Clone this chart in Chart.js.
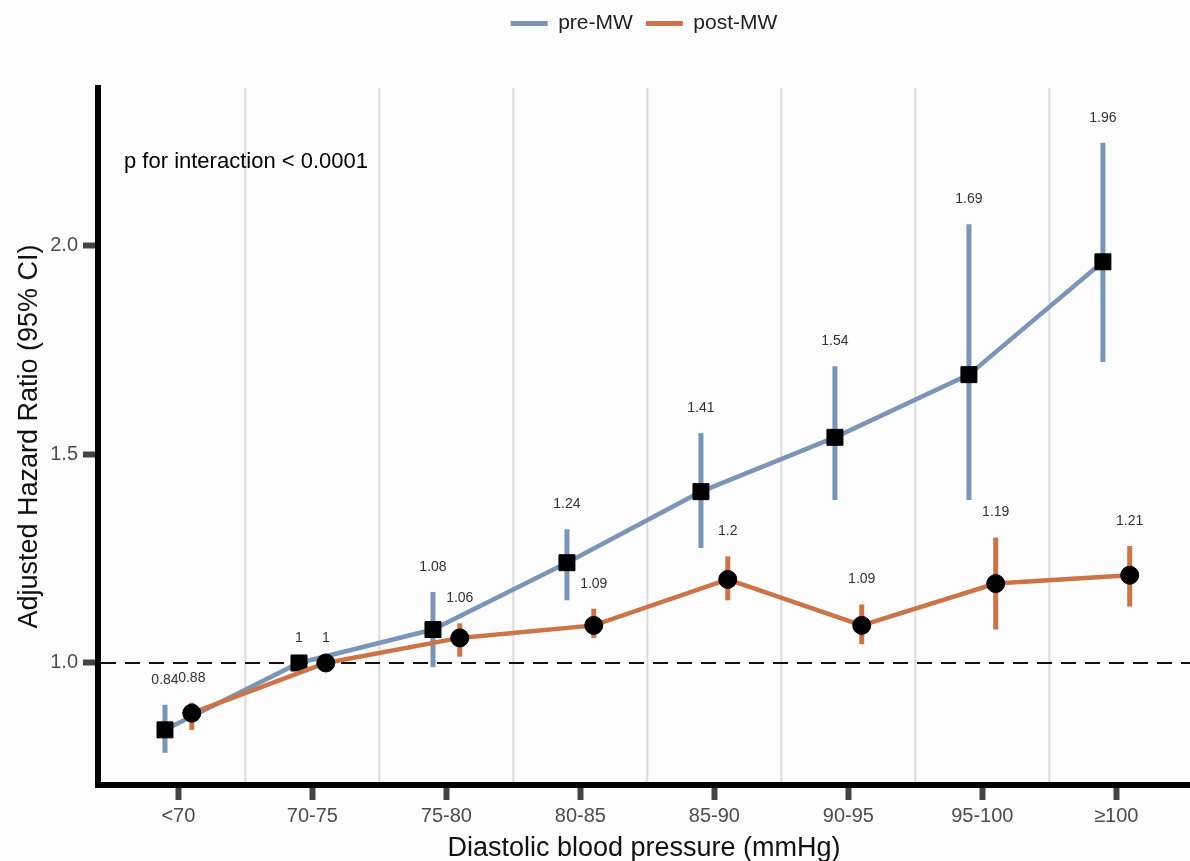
<!DOCTYPE html>
<html>
<head>
<meta charset="utf-8">
<script src="https://cdn.jsdelivr.net/npm/chart.js@4/dist/chart.umd.min.js"></script>
<style>
  html, body { margin: 0; padding: 0; background: #fdfdfe; }
  #wrap { width: 1190px; height: 861px; }
</style>
</head>
<body>
<div id="wrap"><canvas id="hrChart"></canvas></div>
<script>
// 범주 (이완기 혈압 구간)
const categories = ['<70', '70-75', '75-80', '80-85', '85-90', '90-95', '95-100', '≥100'];

// pre-MW: 위험비와 95% 신뢰구간
const preHR   = [0.84, 1, 1.08, 1.24, 1.41, 1.54, 1.69, 1.96];
const preLow  = [0.785, 1, 0.99, 1.15, 1.275, 1.39, 1.39, 1.72];
const preHigh = [0.90, 1, 1.17, 1.32, 1.55, 1.71, 2.05, 2.245];

// post-MW
const postHR   = [0.88, 1, 1.06, 1.09, 1.2, 1.09, 1.19, 1.21];
const postLow  = [0.84, 1, 1.015, 1.06, 1.15, 1.045, 1.08, 1.135];
const postHigh = [0.905, 1, 1.095, 1.13, 1.255, 1.14, 1.30, 1.28];

const yTicks = [1.0, 1.5, 2.0];
const dodge = 0.1;

const blue = '#7b95b8';
const orange = '#cc7348';
const fontFamily = '"Liberation Sans", Arial, sans-serif';

const toPoints = (vals, shift) => vals.map((v, i) => ({ x: i + shift, y: v }));

// 구간 경계선, 기준선(HR=1), 오차막대, 값 라벨
const backgroundMarks = {
    id: 'backgroundMarks',
    beforeDatasetsDraw(chart) {
        const { ctx, chartArea, scales: { x, y } } = chart;
        ctx.save();
        ctx.strokeStyle = '#dcdcdc';
        ctx.lineWidth = 2;
        for (let i = 0; i < categories.length - 1; i++) {
            const px = x.getPixelForValue(i + 0.5);
            ctx.beginPath();
            ctx.moveTo(px, chartArea.top);
            ctx.lineTo(px, chartArea.bottom - 3);
            ctx.stroke();
        }
        // 기준선
        const y1 = y.getPixelForValue(1);
        ctx.strokeStyle = '#111';
        ctx.lineWidth = 2.2;
        ctx.setLineDash([15, 9]);
        ctx.beginPath();
        ctx.moveTo(chartArea.left + 3, y1);
        ctx.lineTo(chartArea.right, y1);
        ctx.stroke();
        ctx.setLineDash([]);
        // 오차막대
        ctx.lineWidth = 5;
        const bars = (low, high, shift, color) => {
            ctx.strokeStyle = color;
            low.forEach((lo, i) => {
                if (high[i] === lo) return;
                const px = x.getPixelForValue(i + shift);
                ctx.beginPath();
                ctx.moveTo(px, y.getPixelForValue(lo));
                ctx.lineTo(px, y.getPixelForValue(high[i]));
                ctx.stroke();
            });
        };
        bars(preLow, preHigh, -dodge, blue);
        bars(postLow, postHigh, dodge, orange);
        ctx.restore();
    },
    afterDatasetsDraw(chart) {
        const { ctx, chartArea, scales: { x, y } } = chart;
        ctx.save();
        ctx.font = '14px ' + fontFamily;
        ctx.fillStyle = '#333';
        ctx.textAlign = 'center';
        ctx.textBaseline = 'middle';
        const labels = (vals, high, shift) => {
            vals.forEach((v, i) => {
                const px = x.getPixelForValue(i + shift);
                const py = y.getPixelForValue(high[i]) - 25;
                ctx.fillText(String(v), px, py);
            });
        };
        labels(preHR, preHigh, -dodge);
        labels(postHR, postHigh, dodge);
        // 상호작용 p값
        ctx.font = '22px ' + fontFamily;
        ctx.fillStyle = '#000';
        ctx.textAlign = 'left';
        ctx.fillText('p for interaction < 0.0001', chartArea.left + 26, 162);
        ctx.restore();
    }
};

document.addEventListener('DOMContentLoaded', () => {
    const ctx = document.getElementById('hrChart').getContext('2d');

    const data = {
        datasets: [
            {
                label: 'pre-MW',
                data: toPoints(preHR, -dodge),
                borderColor: blue,
                backgroundColor: blue,
                borderWidth: 4.5,
                pointStyle: 'rect',
                pointRadius: 11.3,
                pointBackgroundColor: '#000',
                pointBorderColor: '#000',
                pointBorderWidth: 1,
                showLine: true,
                order: 2
            },
            {
                label: 'post-MW',
                data: toPoints(postHR, dodge),
                borderColor: orange,
                backgroundColor: orange,
                borderWidth: 4.5,
                pointStyle: 'circle',
                pointRadius: 9,
                pointBackgroundColor: '#000',
                pointBorderColor: '#000',
                pointBorderWidth: 1,
                showLine: true,
                order: 1
            }
        ]
    };

    const tickFont = { family: fontFamily, size: 20 };
    const titleFont = { family: fontFamily, size: 27 };
    const tickGrid = {
        display: true,
        drawOnChartArea: false,
        drawTicks: true,
        tickLength: 15,
        tickWidth: 6,
        tickColor: '#444'
    };

    const config = {
        type: 'scatter',
        data: data,
        options: {
            responsive: true,
            maintainAspectRatio: false,
            animation: false,
            events: [],
            layout: { autoPadding: false, padding: 0 },
            plugins: {
                legend: {
                    position: 'top',
                    fullSize: false,
                    labels: {
                        usePointStyle: true,
                        pointStyleWidth: 37,
                        padding: 13,
                        color: '#222',
                        font: { family: fontFamily, size: 21 },
                        generateLabels: (chart) => chart.data.datasets.map((ds, i) => ({
                            text: ds.label,
                            strokeStyle: ds.borderColor,
                            fillStyle: ds.borderColor,
                            fontColor: '#222',
                            lineWidth: 5,
                            pointStyle: 'line',
                            hidden: false,
                            datasetIndex: i
                        }))
                    }
                },
                tooltip: { enabled: false }
            },
            scales: {
                x: {
                    type: 'linear',
                    min: -0.6,
                    max: 7.55,
                    afterBuildTicks: (s) => { s.ticks = categories.map((c, i) => ({ value: i })); },
                    afterFit: (s) => { s.height = 76; },
                    ticks: {
                        callback: (v) => categories[v],
                        color: '#4d4d4d',
                        font: tickFont,
                        padding: 4,
                        maxRotation: 0,
                        autoSkip: false
                    },
                    grid: tickGrid,
                    border: { display: true, color: '#000', width: 6 },
                    title: {
                        display: true,
                        text: 'Diastolic blood pressure (mmHg)',
                        color: '#111',
                        font: titleFont,
                        padding: { top: 0, bottom: -4 }
                    }
                },
                y: {
                    min: 0.708,
                    max: 2.376,
                    afterBuildTicks: (s) => { s.ticks = yTicks.map(v => ({ value: v })); },
                    afterFit: (s) => { s.width = 98; },
                    ticks: {
                        callback: (v) => v.toFixed(1),
                        color: '#4d4d4d',
                        font: tickFont,
                        padding: 5
                    },
                    grid: tickGrid,
                    border: { display: true, color: '#000', width: 6 },
                    title: {
                        display: true,
                        text: 'Adjusted Hazard Ratio (95% CI)',
                        color: '#111',
                        font: titleFont,
                        padding: { top: 13, bottom: 0 }
                    }
                },
                // 범례와 플롯 사이의 여백
                gap: {
                    type: 'linear',
                    position: 'top',
                    display: true,
                    afterFit: (s) => { s.height = 88 - (s.chart.legend ? s.chart.legend.height : 0); },
                    ticks: { display: false },
                    grid: { display: false },
                    border: { display: false }
                }
            }
        },
        plugins: [backgroundMarks]
    };

    new Chart(ctx, config);
});
</script>
</body>
</html>
